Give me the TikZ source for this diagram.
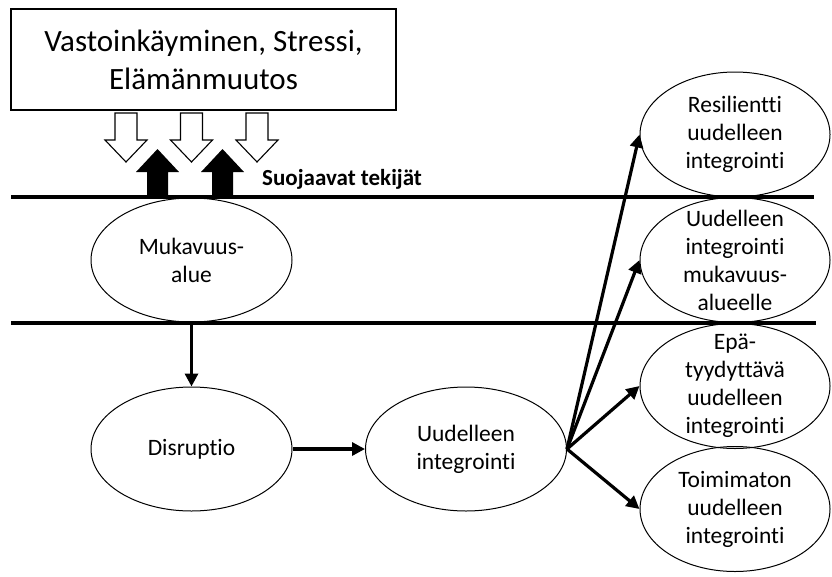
\documentclass[tikz,border=0pt]{standalone}
\usepackage{fontspec}
\setmainfont{Carlito}[Ligatures=NoCommon]
\usetikzlibrary{shapes.geometric,arrows.meta}
\begin{document}
\begin{tikzpicture}[x=1pt,y=-1pt,
  oval/.style={draw,ellipse,line width=1pt,inner sep=0pt},
  bigoval/.style={oval,minimum width=201pt,minimum height=124pt},
  sideoval/.style={oval,minimum width=190pt,minimum height=125pt},
  lbl/.style={align=center,inner sep=0pt,font=\fontsize{23.5}{28}\selectfont},
  conn/.style={line width=3.2pt,-{Triangle[length=13pt,width=13pt]}},
  band/.style={line width=4.5pt},
  hollow/.style={draw,line width=1.1pt,fill=white},
  solid/.style={fill=black}]
\useasboundingbox (0,0) rectangle (832,576);
% top box
\node[draw,line width=1.1pt,minimum width=385pt,minimum height=101pt,align=center,
  font=\fontsize{31}{38}\selectfont,inner sep=0pt] (top) at (203.5,59.5)
  {Vastoinkäyminen, Stressi,\\Elämänmuutos};
% ellipses
\node[bigoval] (muk) at (191.5,260) {};
\node[bigoval] (dis) at (191.5,449) {};
\node[bigoval] (uud) at (466,449) {};
\node[sideoval] (res) at (735,134.5) {};
\node[sideoval] (muka) at (735,260) {};
\node[sideoval] (epa) at (735,386) {};
\node[sideoval] (toi) at (735,509) {};
\node[lbl] (mukt) at (muk) {Mukavuus-\\alue};
\node[lbl] (dist) at (dis) {Disruptio};
\node[lbl] (uudt) at (uud) {Uudelleen\\integrointi};
\node[lbl] (rest) at (res) {Resilientti\\uudelleen\\integrointi};
\node[lbl] (mukat) at (muka) {Uudelleen\\integrointi\\mukavuus-\\alueelle};
\node[lbl] (epat) at (epa) {Epä-\\tyydyttävä\\uudelleen\\integrointi};
\node[lbl] (toit) at (toi) {Toimimaton\\uudelleen\\integrointi};
% bands
\coordinate (b1l) at (11,197); \coordinate (b1r) at (814,197);
\coordinate (b2l) at (11,323); \coordinate (b2r) at (816,323);
\draw[band] (b1l) -- (b1r);
\draw[band] (b2l) -- (b2r);
\node[font=\bfseries\fontsize{23}{27}\selectfont,anchor=base west,inner sep=0pt] (suo) at (262,185) {Suojaavat tekijät};
% hollow down arrows
\foreach \c in {126,191.5,257}{
  \draw[hollow] (\c-11,113) -- (\c+11,113) -- (\c+11,140) -- (\c+21,140) -- (\c,162)
    -- (\c-21,140) -- (\c-11,140) -- cycle;
}
% solid up arrows
\foreach \c in {157.5,222.5}{
  \fill[solid] (\c-10.5,197) -- (\c+10.5,197) -- (\c+10.5,172) -- (\c+21.5,172) -- (\c,149)
    -- (\c-21.5,172) -- (\c-10.5,172) -- cycle;
}
% connectors
\draw[conn] (muk.south) -- (dis.north);
\draw[conn] (dis.east) -- (uud.west);
\draw[conn] (uud.east) -- (res.west);
\draw[conn] (uud.east) -- (muka.west);
\draw[conn] (uud.east) -- (epa.west);
\draw[conn] (uud.east) -- (toi.west);
\end{tikzpicture}
\end{document}
